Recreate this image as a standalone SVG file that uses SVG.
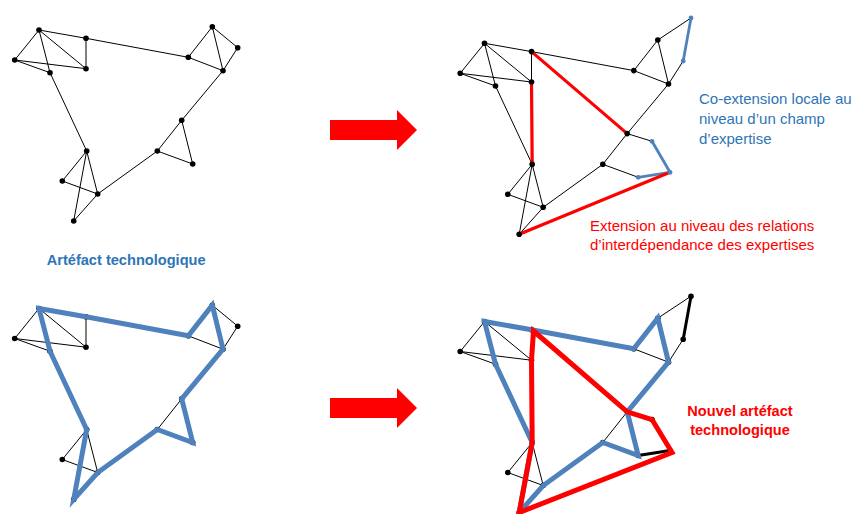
<svg xmlns="http://www.w3.org/2000/svg" width="853" height="514" viewBox="0 0 853 514">
<style>
.e{stroke:#000;stroke-width:1;fill:none}
.ek{stroke:#000;stroke-width:3;fill:none;stroke-linecap:round}
.bl{stroke:#4F81BD;stroke-width:2.8;fill:none;stroke-linecap:round}
.rd{stroke:#FF0000;stroke-width:3.2;fill:none;stroke-linecap:round}
.bt{stroke:#4F81BD;stroke-width:5;fill:none}
.rt{stroke:#FF0000;stroke-width:5;fill:none}
.d{fill:#000}
.db{fill:#4F81BD}
.t{font-family:"Liberation Sans",Arial,sans-serif;font-size:15px}
.tb{font-family:"Liberation Sans",Arial,sans-serif;font-size:14.6px;font-weight:bold}
.arr{fill:#FF0000}
</style>
<rect width="853" height="514" fill="#fff"/>

<!-- Top-left: technological artefact -->
<g id="panel-tl">
<g id="tl-connectors" class="e">
<path d="M39,30L86,38.3L188.3,57.3M39,30L14.7,60M39,30L50,72.7M39,30L86,68.7M14.7,60L86,68.7M14.7,60L50,72.7M86,38.3L86,68.7M50,72.7L86.7,151M188.3,57.3L212.3,26.7M212.3,26.7L237.7,47.7M212.3,26.7L223,70.7M237.7,47.7L223,70.7M188.3,57.3L223,70.7M223,70.7L181.7,120.3M181.7,120.3L157.3,151M181.7,120.3L192.7,164M157.3,151L192.7,164M157.3,151L97.7,194M86.7,151L62.3,181M86.7,151L97.7,194M86.7,151L73.7,221M62.3,181L97.7,194M97.7,194L73.7,221"/>
</g>
<g id="tl-A"><circle class="d" cx="39" cy="30" r="2.8"/></g>
<g id="tl-B"><circle class="d" cx="86" cy="38.3" r="2.8"/></g>
<g id="tl-C"><circle class="d" cx="14.7" cy="60" r="2.8"/></g>
<g id="tl-D"><circle class="d" cx="50" cy="72.7" r="2.8"/></g>
<g id="tl-E"><circle class="d" cx="86" cy="68.7" r="2.8"/></g>
<g id="tl-F"><circle class="d" cx="212.3" cy="26.7" r="2.8"/></g>
<g id="tl-G"><circle class="d" cx="237.7" cy="47.7" r="2.8"/></g>
<g id="tl-H"><circle class="d" cx="188.3" cy="57.3" r="2.8"/></g>
<g id="tl-I"><circle class="d" cx="223" cy="70.7" r="2.8"/></g>
<g id="tl-J"><circle class="d" cx="181.7" cy="120.3" r="2.8"/></g>
<g id="tl-K"><circle class="d" cx="157.3" cy="151" r="2.8"/></g>
<g id="tl-L"><circle class="d" cx="192.7" cy="164" r="2.8"/></g>
<g id="tl-M"><circle class="d" cx="86.7" cy="151" r="2.8"/></g>
<g id="tl-N"><circle class="d" cx="62.3" cy="181" r="2.8"/></g>
<g id="tl-O"><circle class="d" cx="97.7" cy="194" r="2.8"/></g>
<g id="tl-P"><circle class="d" cx="73.7" cy="221" r="2.8"/></g>
</g>

<!-- Top-right: extensions -->
<g id="panel-tr" transform="translate(445.5,13.3)">
<g id="tr-connectors">
<path class="e" d="M39,30L86,38.3L188.3,57.3M39,30L14.7,60M39,30L50,72.7M39,30L86,68.7M14.7,60L86,68.7M14.7,60L50,72.7M86,38.3L86,68.7M50,72.7L86.7,151M188.3,57.3L212.3,26.7M212.3,26.7L245.5,4.7M212.3,26.7L223,70.7M237.7,47.7L223,70.7M188.3,57.3L223,70.7M223,70.7L181.7,120.3M181.7,120.3L157.3,151M181.7,120.3L206.5,128M192.7,164L157.3,151M157.3,151L97.7,194M86.7,151L62.3,181M86.7,151L97.7,194M86.7,151L73.7,221M62.3,181L97.7,194M97.7,194L73.7,221"/>
<path class="bl" d="M245.5,4.7L237.7,47.7M206.5,128L224.5,159L192.7,164"/>
<path class="rd" d="M86,38.3L181.7,120.3M86,68.7L86.7,151M73.7,221L224.5,159"/>
</g>
<g id="tr-A"><circle class="d" cx="39" cy="30" r="2.8"/></g>
<g id="tr-B"><circle class="d" cx="86" cy="38.3" r="2.8"/></g>
<g id="tr-C"><circle class="d" cx="14.7" cy="60" r="2.8"/></g>
<g id="tr-D"><circle class="d" cx="50" cy="72.7" r="2.8"/></g>
<g id="tr-E"><circle class="d" cx="86" cy="68.7" r="2.8"/></g>
<g id="tr-F"><circle class="d" cx="212.3" cy="26.7" r="2.8"/></g>
<g id="tr-G"><circle class="db" cx="237.7" cy="47.7" r="2.4"/></g>
<g id="tr-G2"><circle class="db" cx="245.5" cy="4.7" r="2.4"/></g>
<g id="tr-H"><circle class="d" cx="188.3" cy="57.3" r="2.8"/></g>
<g id="tr-I"><circle class="d" cx="223" cy="70.7" r="2.8"/></g>
<g id="tr-J"><circle class="d" cx="181.7" cy="120.3" r="2.8"/></g>
<g id="tr-K"><circle class="d" cx="157.3" cy="151" r="2.8"/></g>
<g id="tr-L"><circle class="db" cx="192.7" cy="164" r="2.4"/></g>
<g id="tr-L1"><circle class="db" cx="206.5" cy="128" r="2.4"/></g>
<g id="tr-L2"><circle class="db" cx="224.5" cy="159" r="2.4"/></g>
<g id="tr-M"><circle class="d" cx="86.7" cy="151" r="2.8"/></g>
<g id="tr-N"><circle class="d" cx="62.3" cy="181" r="2.8"/></g>
<g id="tr-O"><circle class="d" cx="97.7" cy="194" r="2.8"/></g>
<g id="tr-P"><circle class="d" cx="73.7" cy="221" r="2.8"/></g>
</g>

<!-- Bottom-left -->
<g id="panel-bl" transform="translate(0,278.5)">
<g id="bl-connectors" class="e">
<path d="M39,30L86,38.3L188.3,57.3M39,30L14.7,60M39,30L50,72.7M39,30L86,68.7M14.7,60L86,68.7M14.7,60L50,72.7M86,38.3L86,68.7M50,72.7L86.7,151M188.3,57.3L212.3,26.7M212.3,26.7L237.7,47.7M212.3,26.7L223,70.7M237.7,47.7L223,70.7M188.3,57.3L223,70.7M223,70.7L181.7,120.3M181.7,120.3L157.3,151M181.7,120.3L192.7,164M157.3,151L192.7,164M157.3,151L97.7,194M86.7,151L62.3,181M86.7,151L97.7,194M86.7,151L73.7,221M62.3,181L97.7,194M97.7,194L73.7,221"/>
</g>
<g id="bl-A"><circle class="d" cx="39" cy="30" r="2.8"/></g>
<g id="bl-B"><circle class="d" cx="86" cy="38.3" r="2.8"/></g>
<g id="bl-C"><circle class="d" cx="14.7" cy="60" r="2.8"/></g>
<g id="bl-D"><circle class="d" cx="50" cy="72.7" r="2.8"/></g>
<g id="bl-E"><circle class="d" cx="86" cy="68.7" r="2.8"/></g>
<g id="bl-F"><circle class="d" cx="212.3" cy="26.7" r="2.8"/></g>
<g id="bl-G"><circle class="d" cx="237.7" cy="47.7" r="2.8"/></g>
<g id="bl-H"><circle class="d" cx="188.3" cy="57.3" r="2.8"/></g>
<g id="bl-I"><circle class="d" cx="223" cy="70.7" r="2.8"/></g>
<g id="bl-J"><circle class="d" cx="181.7" cy="120.3" r="2.8"/></g>
<g id="bl-K"><circle class="d" cx="157.3" cy="151" r="2.8"/></g>
<g id="bl-L"><circle class="d" cx="192.7" cy="164" r="2.8"/></g>
<g id="bl-M"><circle class="d" cx="86.7" cy="151" r="2.8"/></g>
<g id="bl-N"><circle class="d" cx="62.3" cy="181" r="2.8"/></g>
<g id="bl-O"><circle class="d" cx="97.7" cy="194" r="2.8"/></g>
<g id="bl-P"><circle class="d" cx="73.7" cy="221" r="2.8"/></g>
<g id="bl-loop"><path class="bt" d="M39,30L86,38.3L188.3,57.3L212.3,26.7L223,70.7L181.7,120.3L192.7,164L157.3,151L97.7,194L73.7,221L86.7,151L50,72.7Z"/></g>
</g>

<!-- Bottom-right: new artefact -->
<g id="panel-br" transform="translate(445.5,291.5)">
<g id="br-connectors">
<path class="e" d="M39,30L86,38.3L188.3,57.3M39,30L14.7,60M39,30L50,72.7M39,30L86,68.7M14.7,60L86,68.7M14.7,60L50,72.7M86,38.3L86,68.7M50,72.7L86.7,151M188.3,57.3L212.3,26.7M212.3,26.7L245.5,4.7M212.3,26.7L223,70.7M237.7,47.7L223,70.7M188.3,57.3L223,70.7M223,70.7L181.7,120.3M181.7,120.3L157.3,151M181.7,120.3L206.5,128M192.7,164L157.3,151M157.3,151L97.7,194M86.7,151L62.3,181M86.7,151L97.7,194M86.7,151L73.7,221M62.3,181L97.7,194M97.7,194L73.7,221"/>
<path class="ek" d="M245.5,4.7L237.7,47.7M224.5,159L192.7,164"/>
</g>
<g id="br-A"><circle class="d" cx="39" cy="30" r="2.8"/></g>
<g id="br-B"><circle class="d" cx="86" cy="38.3" r="2.8"/></g>
<g id="br-C"><circle class="d" cx="14.7" cy="60" r="2.8"/></g>
<g id="br-D"><circle class="d" cx="50" cy="72.7" r="2.8"/></g>
<g id="br-E"><circle class="d" cx="86" cy="68.7" r="2.8"/></g>
<g id="br-F"><circle class="d" cx="212.3" cy="26.7" r="2.8"/></g>
<g id="br-G"><circle class="d" cx="237.7" cy="47.7" r="2.8"/></g>
<g id="br-G2"><circle class="d" cx="245.5" cy="4.7" r="2.8"/></g>
<g id="br-H"><circle class="d" cx="188.3" cy="57.3" r="2.8"/></g>
<g id="br-I"><circle class="d" cx="223" cy="70.7" r="2.8"/></g>
<g id="br-J"><circle class="d" cx="181.7" cy="120.3" r="2.8"/></g>
<g id="br-K"><circle class="d" cx="157.3" cy="151" r="2.8"/></g>
<g id="br-L"><circle class="d" cx="192.7" cy="164" r="2.8"/></g>
<g id="br-L1"><circle class="d" cx="206.5" cy="128" r="2.8"/></g>
<g id="br-L2"><circle class="d" cx="224.5" cy="159" r="2.8"/></g>
<g id="br-M"><circle class="d" cx="86.7" cy="151" r="2.8"/></g>
<g id="br-N"><circle class="d" cx="62.3" cy="181" r="2.8"/></g>
<g id="br-O"><circle class="d" cx="97.7" cy="194" r="2.8"/></g>
<g id="br-P"><circle class="d" cx="73.7" cy="221" r="2.8"/></g>
<g id="br-loops">
<path class="bt" d="M39,30L86,38.3L188.3,57.3L212.3,26.7L223,70.7L181.7,120.3L192.7,164L157.3,151L97.7,194L73.7,221L86.7,151L50,72.7Z"/>
<path class="rt" d="M88,39.5L181.7,120.3L206.5,128L226.5,161L73.7,221L86.7,151L86,68.7Z"/>
</g>
</g>

<!-- Arrows -->
<g id="arrow-top"><polygon class="arr" points="330,120 397,120 397,110 417,130 397,150 397,140 330,140"/></g>
<g id="arrow-bottom"><polygon class="arr" points="330,398 397,398 397,388 417,408 397,428 397,418 330,418"/></g>

<!-- Labels -->
<g id="label-artefact"><text class="tb" x="46.7" y="265" fill="#2E75B6">Artéfact technologique</text></g>
<g id="label-coextension" class="t" fill="#2E75B6">
<text x="699" y="104">Co-extension locale au</text>
<text x="699" y="124">niveau d’un champ</text>
<text x="699" y="143.5">d’expertise</text>
</g>
<g id="label-extension" class="t" fill="#FF0000">
<text x="590" y="231">Extension au niveau des relations</text>
<text x="590" y="250">d’interdépendance des expertises</text>
</g>
<g id="label-nouvel" class="tb" fill="#FF0000" text-anchor="middle">
<text x="740" y="416">Nouvel artéfact</text>
<text x="740" y="435">technologique</text>
</g>
</svg>
